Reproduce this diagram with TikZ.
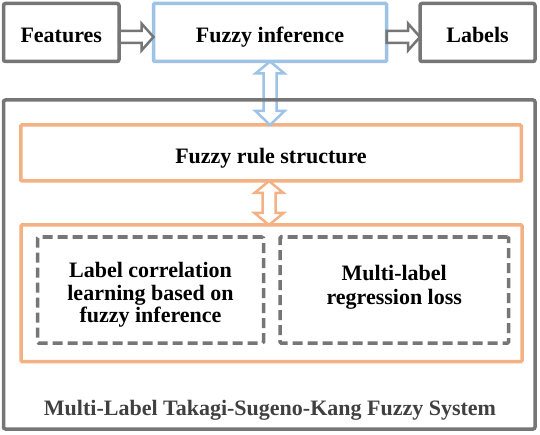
\documentclass[tikz,border=0pt]{standalone}
\usepackage{fontspec}
\setmainfont{Liberation Serif}
\usetikzlibrary{calc}
\definecolor{boxgray}{RGB}{118,118,118}
\definecolor{boxblue}{RGB}{157,195,230}
\definecolor{boxorange}{RGB}{244,177,131}
\definecolor{titlegray}{RGB}{64,64,64}
\begin{document}
\begin{tikzpicture}[x=1pt,y=1pt,
  every node/.style={outer sep=0pt, inner sep=0pt, font=\fontsize{22}{22.5}\selectfont\bfseries},
  oneline/.style={text height=24pt, text depth=3pt},
  gbox/.style={draw=boxgray, line width=3.5pt, rounded corners=2pt},
  bbox/.style={draw=boxblue, line width=3.5pt, rounded corners=1pt},
  obox/.style={draw=boxorange, line width=3.5pt, rounded corners=1pt},
  dbox/.style={draw=boxgray, line width=3.5pt, dash pattern=on 10pt off 5pt, rounded corners=1pt},
  dtext/.style={align=center},
  garrow/.style={draw=boxgray, line width=2.5pt, line join=miter},
  barrow/.style={draw=boxblue, line width=2.5pt, line join=miter},
  oarrow/.style={draw=boxorange, line width=2.5pt, line join=miter}]
\useasboundingbox (0,0) rectangle (540,434);
\fill[white] (0,0) rectangle (540,434);

\node[gbox, oneline, minimum width=115.5pt, minimum height=58pt] (feat) at (61.25,401.5) {Features};
\node[bbox, oneline, minimum width=233pt, minimum height=58pt] (fuzzy) at (270,401.5) {Fuzzy inference};
\node[gbox, oneline, minimum width=115pt, minimum height=58pt] (labels) at (477.5,401.5) {Labels};

\node[obox, oneline, minimum width=500.5pt, minimum height=56pt] (rule) at (271,281) {Fuzzy rule structure};
\node[obox, minimum width=501pt, minimum height=136.5pt] (lower) at (271.5,140.75) {};
\node[dbox, minimum width=226pt, minimum height=106pt] (dashL) at (150.5,144) {};
\node[dbox, minimum width=228.5pt, minimum height=106pt] (dashR) at (394.25,144) {};
\node[dtext] (dashLtext) at ($(dashL.center)+(0,-5)$)
  {Label correlation\\learning based on\\fuzzy inference};
\node[dtext] (dashRtext) at ($(dashR.center)+(0,2.5)$)
  {Multi-label\\[1.5pt]regression loss};

% horizontal arrows
\draw[garrow] let \p1=(feat.east), \p2=(fuzzy.west) in
  (\x1,{\y1-4.5pt+6pt}) -- ({\x2-12pt},{\y1-4.5pt+6pt}) -- ({\x2-12pt},{\y1-4.5pt+13.5pt})
  -- (\x2,{\y1-4.5pt}) -- ({\x2-12pt},{\y1-4.5pt-13.5pt}) -- ({\x2-12pt},{\y1-4.5pt-6pt})
  -- (\x1,{\y1-4.5pt-6pt}) -- cycle;
\draw[garrow] let \p1=(fuzzy.east), \p2=(labels.west) in
  (\x1,{\y1-4.5pt+6pt}) -- ({\x2-12pt},{\y1-4.5pt+6pt}) -- ({\x2-12pt},{\y1-4.5pt+13.5pt})
  -- (\x2,{\y1-4.5pt}) -- ({\x2-12pt},{\y1-4.5pt-13.5pt}) -- ({\x2-12pt},{\y1-4.5pt-6pt})
  -- (\x1,{\y1-4.5pt-6pt}) -- cycle;

% vertical double arrows
\draw[barrow] let \p1=(fuzzy.south), \p2=(rule.north) in
  (\x1,\y1) -- ({\x1+14.5pt},{\y1-12pt}) -- ({\x1+6.5pt},{\y1-12pt}) -- ({\x1+6.5pt},{\y2+14pt})
  -- ({\x1+14.5pt},{\y2+14pt}) -- (\x1,\y2) -- ({\x1-14.5pt},{\y2+14pt}) -- ({\x1-6.5pt},{\y2+14pt})
  -- ({\x1-6.5pt},{\y1-12pt}) -- ({\x1-14.5pt},{\y1-12pt}) -- cycle;
\draw[oarrow] let \p1=(rule.south), \p2=(lower.north) in
  ({\x1-2pt},\y1) -- ({\x1-2pt+14.5pt},{\y1-12pt}) -- ({\x1-2pt+6.5pt},{\y1-12pt}) -- ({\x1-2pt+6.5pt},{\y2+12pt})
  -- ({\x1-2pt+14.5pt},{\y2+12pt}) -- ({\x1-2pt},\y2) -- ({\x1-2pt-14.5pt},{\y2+12pt}) -- ({\x1-2pt-6.5pt},{\y2+12pt})
  -- ({\x1-2pt-6.5pt},{\y1-12pt}) -- ({\x1-2pt-14.5pt},{\y1-12pt}) -- cycle;

% outer system box
\node[gbox, minimum width=531.5pt, minimum height=329pt] (outer) at (269.25,169.5) {};
\node[text=titlegray] (title) at (270,23.5) {Multi-Label Takagi-Sugeno-Kang Fuzzy System};
\end{tikzpicture}
\end{document}
